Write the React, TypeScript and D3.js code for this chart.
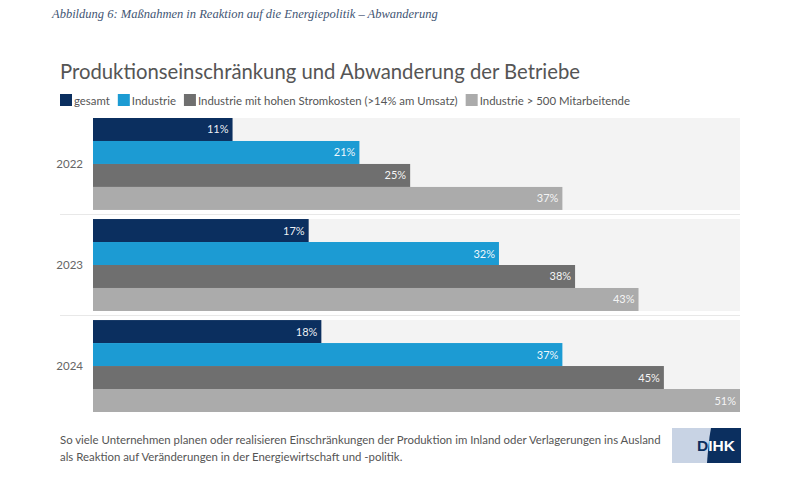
import * as d3 from 'd3';
import { useEffect, useRef } from 'react';

const years = ['2022', '2023', '2024'];
const seriesNames = [
  'gesamt',
  'Industrie',
  'Industrie mit hohen Stromkosten (>14% am Umsatz)',
  'Industrie > 500 Mitarbeitende',
];
const seriesColors = ['#0b2f5f', '#1c9bd3', '#6f6f6f', '#ababab'];
const gesamt = [11, 17, 18];
const industrie = [21, 32, 37];
const stromkosten = [25, 38, 45];
const grossbetriebe = [37, 43, 51];
const footerLines = [
  'So viele Unternehmen planen oder realisieren Einschränkungen der Produktion im Inland oder Verlagerungen ins Ausland',
  'als Reaktion auf Veränderungen in der Energiewirtschaft und -politik.',
];

const W = 800;
const H = 489;
const FONT = 'Lato, "Noto Sans", sans-serif';

export default function App() {
  const svgRef = useRef<SVGSVGElement>(null);

  useEffect(() => {
    if (!svgRef.current) return;
    const svg = d3.select(svgRef.current);
    svg.selectAll('*').remove();

    const values = [gesamt, industrie, stromkosten, grossbetriebe];

    // header caption
    svg
      .append('text')
      .attr('x', 52)
      .attr('y', 18)
      .attr('font-family', '"Liberation Serif", "DejaVu Serif", serif')
      .attr('font-style', 'italic')
      .attr('font-size', 12.5)
      .attr('fill', '#3f5573')
      .text('Abbildung 6: Maßnahmen in Reaktion auf die Energiepolitik – Abwanderung');

    svg
      .append('text')
      .attr('x', 60)
      .attr('y', 79)
      .attr('font-family', FONT)
      .attr('font-size', 20.3)
      .attr('fill', '#555')
      .text('Produktionseinschränkung und Abwanderung der Betriebe');

    // legend
    const legend = svg.append('g').attr('font-family', FONT).attr('font-size', 11.4);
    let lx = 60;
    seriesNames.forEach((name, i) => {
      legend
        .append('rect')
        .attr('x', lx)
        .attr('y', 94)
        .attr('width', 12)
        .attr('height', 12)
        .attr('fill', seriesColors[i]);
      const t = legend
        .append('text')
        .attr('x', lx + 14)
        .attr('y', 104.5)
        .attr('fill', '#555')
        .text(name);
      const w = (t.node() as SVGTextElement).getComputedTextLength();
      lx += 14 + w + 8;
    });

    const x = d3.scaleLinear().domain([0, 51]).range([93, 740]);
    const y = d3.scaleBand().domain(years).range([118, 412]).paddingInner(0.09);
    const inner = d3
      .scaleBand<number>()
      .domain(d3.range(seriesNames.length))
      .range([0, y.bandwidth()]);

    const g = svg.append('g');

    // separator lines
    years.slice(1).forEach((yr) => {
      const sy = (y(yr) || 0) - (y.step() - y.bandwidth()) / 2;
      g.append('line')
        .attr('x1', 60)
        .attr('x2', 740)
        .attr('y1', sy)
        .attr('y2', sy)
        .attr('stroke', '#e8e8e8')
        .attr('stroke-width', 1);
    });

    years.forEach((yr, yi) => {
      const gy = y(yr) || 0;
      g.append('rect')
        .attr('x', x(0))
        .attr('y', gy)
        .attr('width', x(51) - x(0))
        .attr('height', y.bandwidth())
        .attr('fill', '#f3f3f3');

      g.append('text')
        .attr('x', 83)
        .attr('y', gy + y.bandwidth() / 2 + 4)
        .attr('text-anchor', 'end')
        .attr('font-family', FONT)
        .attr('font-size', 11.5)
        .attr('fill', '#666')
        .text(yr);

      values.forEach((series, si) => {
        const by = gy + (inner(si) || 0);
        const v = series[yi];
        g.append('rect')
          .attr('x', x(0))
          .attr('y', by)
          .attr('width', x(v) - x(0))
          .attr('height', inner.bandwidth())
          .attr('fill', seriesColors[si]);
        g.append('text')
          .attr('x', x(v) - 4)
          .attr('y', by + inner.bandwidth() / 2 + 4)
          .attr('text-anchor', 'end')
          .attr('font-family', FONT)
          .attr('font-size', 11)
          .attr('fill', '#fff')
          .attr('fill-opacity', si === 3 ? 0.9 : 0.95)
          .text(`${v}%`);
      });
    });

    // footer text
    footerLines.forEach((line, i) => {
      svg
        .append('text')
        .attr('x', 60)
        .attr('y', 444 + i * 17)
        .attr('font-family', FONT)
        .attr('font-size', 11.4)
        .attr('fill', '#555')
        .text(line);
    });

    // DIHK logo
    const logo = svg.append('g').attr('transform', 'translate(672,428)');
    logo.append('rect').attr('width', 69).attr('height', 35).attr('fill', '#c8d3e4');
    logo
      .append('path')
      .attr('d', 'M39,0 L69,0 L69,35 L35,35 C36,22 37,10 39,0 Z')
      .attr('fill', '#0b2f5f');
    const lt = logo
      .append('text')
      .attr('x', 25)
      .attr('y', 23)
      .attr('font-family', '"Liberation Sans", Arial, sans-serif')
      .attr('font-weight', 'bold')
      .attr('font-size', 15.5);
    lt.append('tspan').attr('fill', '#0b2f5f').text('D');
    lt.append('tspan').attr('fill', '#fff').text('IHK');
  }, []);

  return (
    <svg
      ref={svgRef}
      width={W}
      height={H}
      style={{ position: 'absolute', left: 0, top: 0, background: '#fff' }}
    ></svg>
  );
}
